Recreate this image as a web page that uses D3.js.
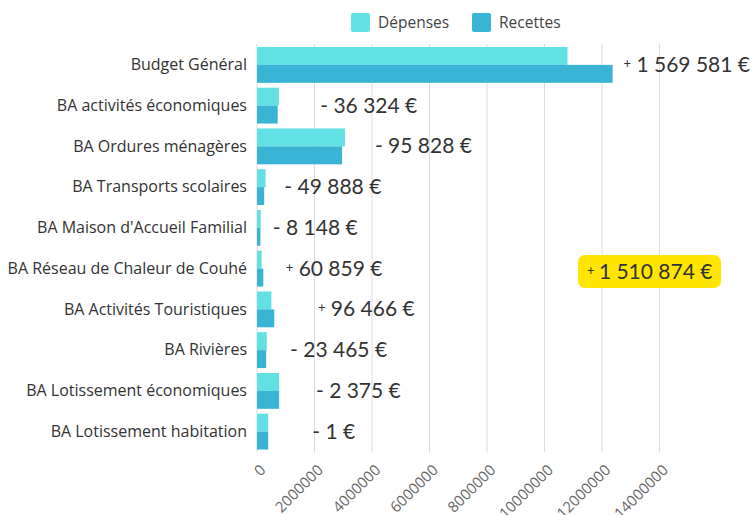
<!DOCTYPE html>
<html>
<head>
<meta charset="utf-8">
<script src="https://cdn.jsdelivr.net/npm/d3@7"></script>
<style>
  body { margin: 0; background: #fff; }
  svg { display: block; font-family: "Open Sans", sans-serif; }
</style>
</head>
<body>
<script>
// budget lines (top to bottom)
var categories = [
  "Budget Général",
  "BA activités économiques",
  "BA Ordures ménagères",
  "BA Transports scolaires",
  "BA Maison d'Accueil Familial",
  "BA Réseau de Chaleur de Couhé",
  "BA Activités Touristiques",
  "BA Rivières",
  "BA Lotissement économiques",
  "BA Lotissement habitation"
];
// values (euros)
var depenses = [10800000, 760000, 3060000, 300000, 130000, 160000, 500000, 340000, 770000, 390000];
var recettes = [12370000, 720000, 2960000, 250000, 120000, 220000, 600000, 320000, 770000, 390000];
// result text next to each pair of bars
var resultSign = ["+", "-", "-", "-", "-", "+", "+", "-", "-", "-"];
var resultText = ["1 569 581 €", "36 324 €", "95 828 €", "49 888 €", "8 148 €",
                  "60 859 €", "96 466 €", "23 465 €", "2 375 €", "1 €"];
// where each result label starts, in euros on the x scale
var resultAt = [12750000, 2200000, 4100000, 950000, 550000, 1000000, 2120000, 1150000, 2050000, 1920000];
var totalText = "1 510 874 €";
var xTicks = [0, 2000000, 4000000, 6000000, 8000000, 10000000, 12000000, 14000000];
var series = ["Dépenses", "Recettes"];
var colors = ["#62e0e3", "#3ab4d4"];

var svg_width = 753, svg_height = 515;

var svg = d3.select("body").append("svg")
    .attr("width", svg_width)
    .attr("height", svg_height);

var x = d3.scaleLinear().domain([0, 14000000]).range([257, 659.5]);
var y = d3.scaleBand().domain(categories).range([44.5, 452]).paddingInner(0.12).paddingOuter(0.06);
var ySub = d3.scaleBand().domain(series).range([0, y.bandwidth()]);
var color = d3.scaleOrdinal().domain(series).range(colors);

//gridlines
svg.append("g")
    .selectAll("line")
    .data(xTicks)
    .enter().append("line")
    .attr("x1", function(d) { return x(d); })
    .attr("x2", function(d) { return x(d); })
    .attr("y1", 44)
    .attr("y2", 452)
    .attr("stroke", "#dcdcdc")
    .attr("stroke-width", 1);

//x axis labels, rotated
var xAxis = svg.append("g")
    .attr("transform", "translate(0,452)")
    .call(d3.axisBottom(x).tickValues(xTicks).tickFormat(d3.format("d")).tickSize(0));
xAxis.select(".domain").remove();
xAxis.selectAll("text")
    .attr("font-family", "Open Sans")
    .attr("font-size", 15)
    .attr("fill", "#666")
    .attr("text-anchor", "end")
    .attr("dy", null)
    .attr("y", 0)
    .attr("transform", "translate(9,19) rotate(-45)");

//category labels
var yAxis = svg.append("g")
    .attr("transform", "translate(247,0)")
    .call(d3.axisLeft(y).tickSize(0).tickPadding(0));
yAxis.select(".domain").remove();
yAxis.selectAll("text")
    .attr("font-family", "Open Sans")
    .attr("font-size", 16)
    .attr("fill", "#333");

//bars
var rows = categories.map(function(c, i) {
  return {cat: c, values: [{s: "Dépenses", v: depenses[i]}, {s: "Recettes", v: recettes[i]}]};
});
var g = svg.append("g").selectAll("g")
    .data(rows)
    .enter().append("g")
    .attr("transform", function(d) { return "translate(0," + y(d.cat) + ")"; });
g.selectAll("rect")
    .data(function(d) { return d.values; })
    .enter().append("rect")
    .attr("x", x(0))
    .attr("y", function(d) { return ySub(d.s); })
    .attr("width", function(d) { return x(d.v) - x(0); })
    .attr("height", ySub.bandwidth())
    .attr("fill", function(d) { return color(d.s); });

//results next to bars
var lab = svg.append("g").selectAll("text")
    .data(categories)
    .enter().append("text")
    .attr("x", function(d, i) { return x(resultAt[i]); })
    .attr("y", function(d) { return y(d) + y.bandwidth() / 2 + 7; })
    .attr("font-family", "Lato")
    .attr("font-size", 21)
    .attr("fill", "#333");
lab.append("tspan")
    .attr("font-size", function(d, i) { return resultSign[i] == "+" ? 13 : 21; })
    .attr("dy", function(d, i) { return resultSign[i] == "+" ? -4 : 0; })
    .text(function(d, i) { return resultSign[i] + " "; });
lab.append("tspan")
    .attr("dy", function(d, i) { return resultSign[i] == "+" ? 4 : 0; })
    .attr("dx", function(d, i) { return resultSign[i] == "+" ? 2 : 0; })
    .text(function(d, i) { return resultText[i]; });

//yellow total badge
var badge = svg.append("g").attr("transform", "translate(578,255)");
badge.append("rect")
    .attr("width", 143)
    .attr("height", 33)
    .attr("rx", 7)
    .attr("fill", "#ffe500");
var bt = badge.append("text")
    .attr("x", 9)
    .attr("y", 24)
    .attr("font-family", "Lato")
    .attr("font-size", 21)
    .attr("fill", "#333");
bt.append("tspan").attr("font-size", 13).attr("dy", -4).text("+ ");
bt.append("tspan").attr("dy", 4).attr("dx", 1).text(totalText);

//legend
var leg = svg.append("g").selectAll("g")
    .data(series)
    .enter().append("g")
    .attr("transform", function(d, i) { return "translate(" + (351 + i * 121) + ",13)"; });
leg.append("rect")
    .attr("width", 19)
    .attr("height", 19)
    .attr("rx", 2)
    .attr("fill", function(d) { return color(d); });
leg.append("text")
    .attr("x", 27)
    .attr("y", 15)
    .attr("font-family", "Open Sans")
    .attr("font-size", 15.5)
    .attr("fill", "#444")
    .text(function(d) { return d; });
</script>
</body>
</html>
